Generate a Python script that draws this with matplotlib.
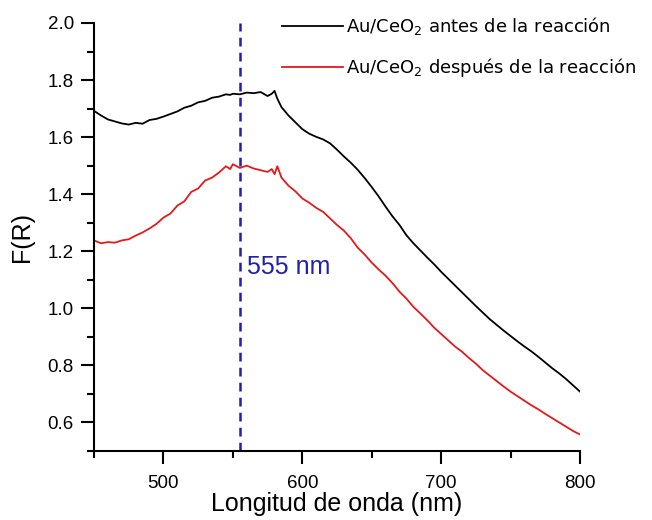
# Espectro de reflectancia difusa F(R) de Au/CeO2 antes y despues de la reaccion.

import numpy as np
import matplotlib
matplotlib.use('Agg')
import matplotlib.pyplot as plt
from matplotlib.ticker import MultipleLocator

# Datos.
longitud_onda = [450, 455, 460, 465, 470, 475, 480, 485, 490, 495,
                 500, 505, 510, 515, 520, 525, 530, 535, 540, 545,
                 548, 550, 555, 560, 565, 570, 575, 578, 580, 582,
                 585, 590, 595, 600, 605, 610, 615, 620, 625, 630,
                 635, 640, 645, 650, 655, 660, 665, 670, 675, 680,
                 685, 690, 695, 700, 705, 710, 715, 720, 725, 730,
                 735, 740, 745, 750, 755, 760, 765, 770, 775, 780,
                 785, 790, 795, 800]

fr_antes = [1.692, 1.676, 1.662, 1.655, 1.648, 1.644, 1.650, 1.647, 1.660, 1.664,
            1.672, 1.681, 1.690, 1.703, 1.710, 1.722, 1.727, 1.738, 1.742, 1.750,
            1.748, 1.752, 1.750, 1.756, 1.754, 1.758, 1.744, 1.752, 1.762, 1.735,
            1.705, 1.676, 1.652, 1.628, 1.612, 1.601, 1.592, 1.578, 1.556, 1.532,
            1.510, 1.485, 1.456, 1.425, 1.392, 1.356, 1.322, 1.292, 1.256, 1.228,
            1.203, 1.178, 1.154, 1.128, 1.104, 1.080, 1.056, 1.032, 1.008, 0.985,
            0.962, 0.942, 0.922, 0.903, 0.884, 0.866, 0.849, 0.830, 0.810, 0.790,
            0.772, 0.752, 0.730, 0.708]

fr_despues = [1.238, 1.228, 1.232, 1.230, 1.238, 1.242, 1.255, 1.266, 1.280, 1.296,
              1.318, 1.332, 1.360, 1.375, 1.408, 1.420, 1.448, 1.458, 1.476, 1.498,
              1.488, 1.505, 1.492, 1.500, 1.490, 1.484, 1.478, 1.488, 1.470, 1.498,
              1.458, 1.430, 1.410, 1.385, 1.370, 1.352, 1.338, 1.315, 1.292, 1.272,
              1.245, 1.212, 1.188, 1.160, 1.136, 1.114, 1.088, 1.058, 1.034, 1.005,
              0.982, 0.958, 0.932, 0.910, 0.888, 0.866, 0.848, 0.826, 0.806, 0.783,
              0.764, 0.745, 0.726, 0.708, 0.692, 0.676, 0.660, 0.646, 0.630, 0.615,
              0.600, 0.585, 0.570, 0.558]

pico = 555
etiquetas = [r'Au/CeO$_2$ antes de la reacción', r'Au/CeO$_2$ después de la reacción']

# Figura.
fig = plt.figure(figsize=(6.52, 5.2), dpi=100)
ax = fig.add_axes([0.1442, 0.1327, 0.7454, 0.8231])

ax.plot(longitud_onda, fr_antes, color='black', lw=1.3, label=etiquetas[0])
ax.plot(longitud_onda, fr_despues, color='#e31a1c', lw=1.3, label=etiquetas[1])
ax.axvline(pico, color='#1f1fb0', lw=1.8, ls=(0, (3.5, 2.5)))

ax.text(pico + 5, 1.145, '555 nm', color='#1f1fb0', fontsize=18,
        family='Liberation Sans', va='center', ha='left')

ax.set_xlim(450, 800)
ax.set_ylim(0.5, 2.0)
ax.xaxis.set_minor_locator(MultipleLocator(50))
ax.set_xticks([500, 600, 700, 800])
ax.yaxis.set_minor_locator(MultipleLocator(0.1))
ax.set_yticks(np.arange(0.6, 2.01, 0.2))
ax.set_yticklabels(['%.1f' % v for v in np.arange(0.6, 2.01, 0.2)])

for s in ['top', 'right']:
    ax.spines[s].set_visible(False)
for s in ['left', 'bottom']:
    ax.spines[s].set_linewidth(1.5)

ax.tick_params(which='major', direction='out', length=9.5, width=1.5,
               labelsize=13.5, pad=5)
ax.tick_params(which='minor', direction='out', length=5, width=1.5)
ax.tick_params(axis='x', which='major', pad=8)
for lab in ax.get_xticklabels() + ax.get_yticklabels():
    lab.set_family('Liberation Sans')

ax.set_xlabel('Longitud de onda (nm)', fontsize=18, family='Liberation Sans', labelpad=0)
ax.set_ylabel('F(R)', fontsize=18, family='Liberation Sans', labelpad=10)

ax.legend(loc='upper left', bbox_to_anchor=(0.372, 1.035), frameon=False,
          fontsize=13, handlelength=3.35, handletextpad=0.2, labelspacing=1.05,
          borderaxespad=0)

fig.savefig('out.png', dpi=100)
